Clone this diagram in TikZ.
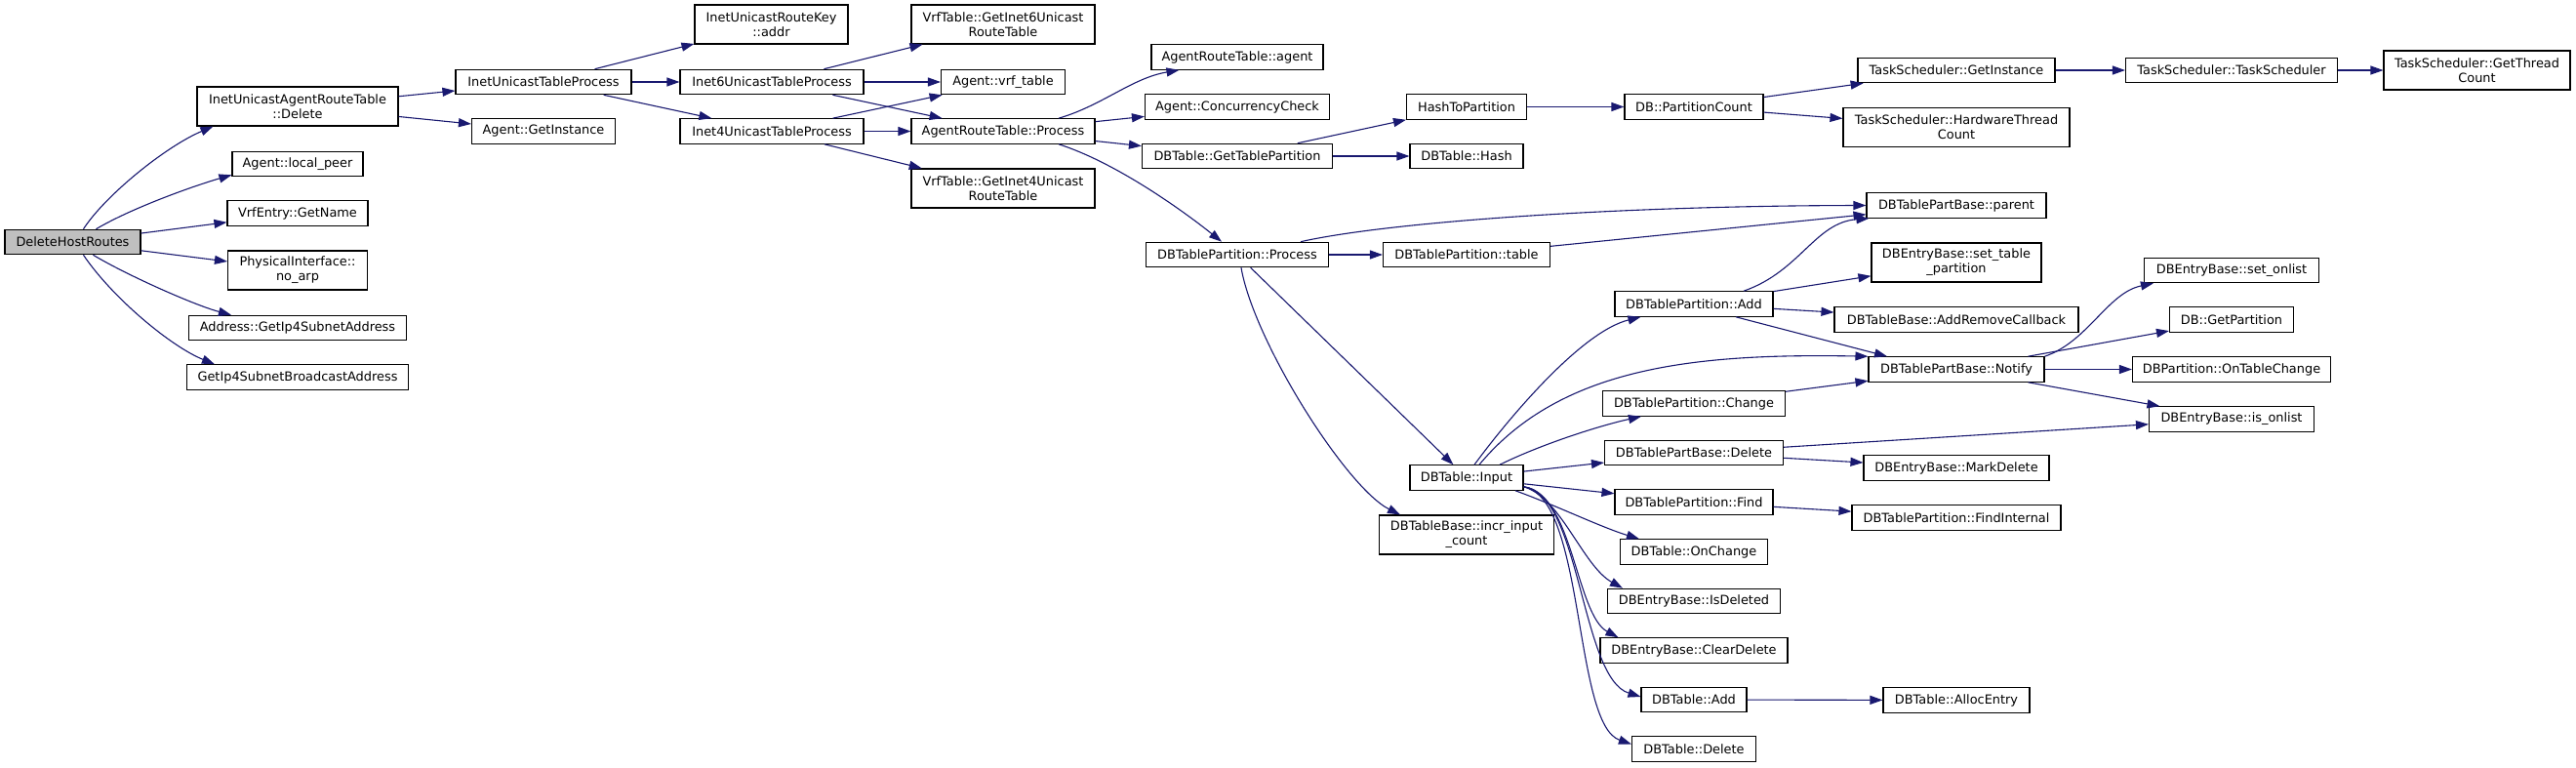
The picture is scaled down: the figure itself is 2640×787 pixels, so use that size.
\documentclass[tikz,border=0pt]{standalone}
\usepackage{fontspec}
\setmainfont{DejaVu Sans}
\usetikzlibrary{arrows.meta}
\definecolor{edgeblue}{HTML}{191970}
\definecolor{rootgray}{HTML}{BFBFBF}
\begin{document}
\begin{tikzpicture}[x=1pt,y=-1pt,
  fnbox/.style={draw=black, line width=1.1pt, fill=white, inner sep=0pt, minimum height=25.5pt, align=center, font=\fontsize{12.9}{15}\selectfont},
  fnboxtwo/.style={fnbox, minimum height=40pt},
  callarrow/.style={draw=edgeblue, line width=1.1pt, -{Triangle[length=13pt,width=9pt]}}]
\fill[white] (0,0) rectangle (2640,787);
\useasboundingbox (0,0) rectangle (2640,787);

\node[fnbox, fill=rootgray, minimum width=139pt] (dhr) at (74.5,248) {DeleteHostRoutes};
\node[fnboxtwo, minimum width=206pt] (iuart) at (305,109) {InetUnicastAgentRouteTable\\::Delete};
\node[fnbox, minimum width=134pt] (lpeer) at (305,168) {Agent::local\_peer};
\node[fnbox, minimum width=144pt] (vrfname) at (305,218.5) {VrfEntry::GetName};
\node[fnboxtwo, minimum width=143pt] (noarp) at (305,277) {PhysicalInterface::\\no\_arp};
\node[fnbox, minimum width=223pt] (subaddr) at (305,336) {Address::GetIp4SubnetAddress};
\node[fnbox, minimum width=227pt] (bcast) at (305,386.5) {GetIp4SubnetBroadcastAddress};
\node[fnbox, minimum width=180pt] (itp) at (557,84) {InetUnicastTableProcess};
\node[fnbox, minimum width=147pt] (getinst) at (557,134.5) {Agent::GetInstance};
\node[fnboxtwo, minimum width=157pt] (irk) at (790.5,25) {InetUnicastRouteKey\\::addr};
\node[fnbox, minimum width=188pt] (inet6) at (791,84) {Inet6UnicastTableProcess};
\node[fnbox, minimum width=188pt] (inet4) at (791,134.5) {Inet4UnicastTableProcess};
\node[fnboxtwo, minimum width=188pt] (getinet6) at (1028,25) {VrfTable::GetInet6Unicast\\RouteTable};
\node[fnbox, minimum width=127pt] (vrftable) at (1028,84) {Agent::vrf\_table};
\node[fnbox, minimum width=188pt] (artproc) at (1028,134.5) {AgentRouteTable::Process};
\node[fnboxtwo, minimum width=188pt] (getinet4) at (1028,193) {VrfTable::GetInet4Unicast\\RouteTable};
\node[fnbox, minimum width=176pt] (artagent) at (1268,58.5) {AgentRouteTable::agent};
\node[fnbox, minimum width=189pt] (concur) at (1268,109.5) {Agent::ConcurrencyCheck};
\node[fnbox, minimum width=195pt] (gettp) at (1268,160) {DBTable::GetTablePartition};
\node[fnbox, minimum width=187pt] (dbtpproc) at (1268,261) {DBTablePartition::Process};
\node[fnbox, minimum width=123pt] (h2p) at (1503,109.5) {HashToPartition};
\node[fnbox, minimum width=116pt] (dbhash) at (1503,160) {DBTable::Hash};
\node[fnbox, minimum width=171pt] (dbtptable) at (1503,261) {DBTablePartition::table};
\node[fnbox, minimum width=116pt] (input) at (1503,489.5) {DBTable::Input};
\node[fnboxtwo, minimum width=179pt] (incr) at (1503,548) {DBTableBase::incr\_input\\\_count};
\node[fnbox, minimum width=142pt] (partcount) at (1736,109.5) {DB::PartitionCount};
\node[fnbox, minimum width=162pt] (dbtpadd) at (1736,311.5) {DBTablePartition::Add};
\node[fnbox, minimum width=187pt] (change) at (1736,413.5) {DBTablePartition::Change};
\node[fnbox, minimum width=183pt] (tpbdelete) at (1736,464) {DBTablePartBase::Delete};
\node[fnbox, minimum width=162pt] (find) at (1736,514.5) {DBTablePartition::Find};
\node[fnbox, minimum width=151pt] (onchange) at (1736,565.5) {DBTable::OnChange};
\node[fnbox, minimum width=177pt] (isdeleted) at (1736,616) {DBEntryBase::IsDeleted};
\node[fnbox, minimum width=192pt] (cleardelete) at (1736,666.5) {DBEntryBase::ClearDelete};
\node[fnbox, minimum width=108pt] (dbadd) at (1736,717) {DBTable::Add};
\node[fnbox, minimum width=127pt] (dbdelete) at (1736,767.5) {DBTable::Delete};
\node[fnbox, minimum width=202pt] (tsgetinst) at (2005,72) {TaskScheduler::GetInstance};
\node[fnboxtwo, minimum width=232pt] (hwtc) at (2005,130.5) {TaskScheduler::HardwareThread\\Count};
\node[fnbox, minimum width=184pt] (parent) at (2005,210.5) {DBTablePartBase::parent};
\node[fnboxtwo, minimum width=174pt] (settp) at (2005,269) {DBEntryBase::set\_table\\\_partition};
\node[fnbox, minimum width=250pt] (arcb) at (2005,327.5) {DBTableBase::AddRemoveCallback};
\node[fnbox, minimum width=180pt] (notify) at (2005,378.5) {DBTablePartBase::Notify};
\node[fnbox, minimum width=190pt] (markdel) at (2005,479.5) {DBEntryBase::MarkDelete};
\node[fnbox, minimum width=214pt] (findint) at (2005,530.5) {DBTablePartition::FindInternal};
\node[fnbox, minimum width=150pt] (alloc) at (2005,717.5) {DBTable::AllocEntry};
\node[fnbox, minimum width=217pt] (tsts) at (2287,72) {TaskScheduler::TaskScheduler};
\node[fnboxtwo, minimum width=191pt] (getthread) at (2538.5,72) {TaskScheduler::GetThread\\Count};
\node[fnbox, minimum width=179pt] (setonlist) at (2287,277) {DBEntryBase::set\_onlist};
\node[fnbox, minimum width=127pt] (getpart) at (2287,327.5) {DB::GetPartition};
\node[fnbox, minimum width=203pt] (ontc) at (2287,378.5) {DBPartition::OnTableChange};
\node[fnbox, minimum width=169pt] (isonlist) at (2287,429.5) {DBEntryBase::is\_onlist};

% DeleteHostRoutes calls
\draw[callarrow] ([xshift=11pt]dhr.north) .. controls (108,200) and (170,150) .. ([xshift=17pt]iuart.south west);
\draw[callarrow] ([xshift=24pt]dhr.north) .. controls (135,213) and (200,190) .. ([yshift=2pt]lpeer.south west);
\draw[callarrow] (dhr) -- (vrfname);
\draw[callarrow] (dhr) -- (noarp);
\draw[callarrow] ([xshift=21pt]dhr.south) .. controls (130,282) and (200,313) .. ([xshift=44pt]subaddr.north west);
\draw[callarrow] ([xshift=11pt]dhr.south) .. controls (115,305) and (175,355) .. ([xshift=29pt]bcast.north west);
% InetUnicastAgentRouteTable::Delete
\draw[callarrow] (iuart) -- (itp);
\draw[callarrow] (iuart) -- (getinst);
% InetUnicastTableProcess
\draw[callarrow] (itp) -- (irk);
\draw[callarrow] (itp) -- (inet6);
\draw[callarrow] (itp) -- (inet4);
% Inet6 / Inet4
\draw[callarrow] (inet6) -- (getinet6);
\draw[callarrow] (inet6) -- (vrftable);
\draw[callarrow] (inet6) -- (artproc);
\draw[callarrow] (inet4) -- (vrftable);
\draw[callarrow] (inet4) -- (artproc);
\draw[callarrow] (inet4) -- (getinet4);
% AgentRouteTable::Process
\draw[callarrow] ([xshift=57pt]artproc.north) .. controls (1130,108) and (1160,80) .. ([xshift=29pt]artagent.south west);
\draw[callarrow] (artproc) -- (concur);
\draw[callarrow] (artproc) -- (gettp);
\draw[callarrow] ([xshift=57pt]artproc.south) .. controls (1145,167) and (1215,218) .. ([xshift=-16pt]dbtpproc.north);
% GetTablePartition chain
\draw[callarrow] (gettp) -- (h2p);
\draw[callarrow] (gettp) -- (dbhash);
\draw[callarrow] (h2p) -- (partcount);
\draw[callarrow] (partcount) -- (tsgetinst);
\draw[callarrow] (partcount) -- (hwtc);
\draw[callarrow] (tsgetinst) -- (tsts);
\draw[callarrow] (tsts) -- (getthread);
% DBTablePartition::Process
\draw[callarrow] ([xshift=65pt]dbtpproc.north) .. controls (1420,228) and (1650,211) .. (parent.west);
\draw[callarrow] (dbtpproc) -- (dbtptable);
\draw[callarrow] (dbtpproc) -- (input);
\draw[callarrow] ([xshift=4pt]dbtpproc.south) .. controls (1285,350) and (1380,500) .. ([xshift=-68pt]incr.north);
\draw[callarrow] (dbtptable) -- (parent);
% DBTablePartition::Add
\draw[callarrow] ([xshift=51pt]dbtpadd.north) .. controls (1845,278) and (1860,228) .. ([xshift=3pt]parent.south west);
\draw[callarrow] (dbtpadd) -- (settp);
\draw[callarrow] (dbtpadd) -- (arcb);
\draw[callarrow] ([xshift=43pt]dbtpadd.south) -- ([xshift=-71pt]notify.north);
% DBTable::Input
\draw[callarrow] ([xshift=8pt]input.north) .. controls (1545,430) and (1620,340) .. ([xshift=27pt]dbtpadd.south west);
\draw[callarrow] ([xshift=13pt]input.north) .. controls (1600,375) and (1740,362) .. (notify.north west);
\draw[callarrow] ([xshift=34pt]input.north) .. controls (1580,455) and (1640,436) .. ([xshift=40pt]change.south west);
\draw[callarrow] (input) -- (tpbdelete);
\draw[callarrow] (input) -- (find);
\draw[callarrow] ([xshift=50pt]input.south) .. controls (1595,518) and (1640,540) .. ([xshift=20pt]onchange.north west);
\draw[callarrow] ([yshift=4pt]input.south east) .. controls (1600,510) and (1622,580) .. ([xshift=16pt]isdeleted.north west);
\draw[callarrow] ([yshift=4pt]input.south east) .. controls (1612,505) and (1615,630) .. ([xshift=19pt]cleardelete.north west);
\draw[callarrow] ([yshift=4pt]input.south east) .. controls (1620,505) and (1620,695) .. ([yshift=3pt]dbadd.west);
\draw[callarrow] ([yshift=4pt]input.south east) .. controls (1625,510) and (1612,742) .. ([yshift=5pt]dbdelete.west);
% others
\draw[callarrow] (change) -- (notify);
\draw[callarrow] (tpbdelete) -- (isonlist);
\draw[callarrow] (tpbdelete) -- (markdel);
\draw[callarrow] (find) -- (findint);
\draw[callarrow] (dbadd) -- (alloc);
% Notify
\draw[callarrow] (notify.north east) .. controls (2140,350) and (2160,300) .. ([xshift=10pt]setonlist.south west);
\draw[callarrow] (notify) -- (getpart);
\draw[callarrow] (notify) -- (ontc);
\draw[callarrow] (notify) -- (isonlist);
\end{tikzpicture}
\end{document}
